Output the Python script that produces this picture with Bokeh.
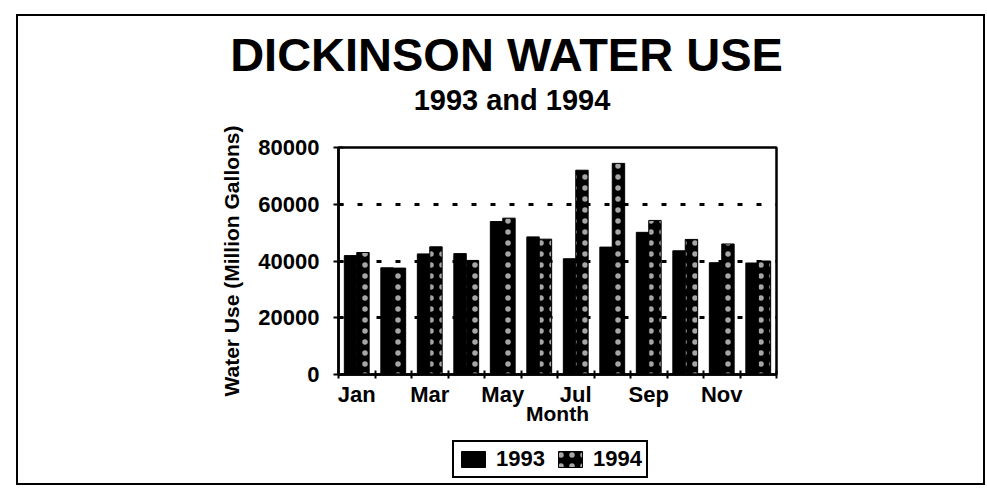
from bokeh.plotting import figure
from bokeh.layouts import column
from bokeh.models import (ColumnDataSource, FixedTicker, Legend, LegendItem,
                          Range1d, Div)
from bokeh.embed import file_html
from bokeh.resources import INLINE

months = ["Jan", "Feb", "Mar", "Apr", "May", "Jun", "Jul", "Aug", "Sep", "Oct", "Nov", "Dec"]
use_1993 = [41900, 37600, 42500, 42600, 53900, 48500, 40800, 44900, 50100, 43600, 39400, 39300]
use_1994 = [43000, 37500, 45000, 40200, 55100, 47700, 72000, 74400, 54300, 47600, 46000, 40000]
y_ticks = [0, 20000, 40000, 60000, 80000]
x_label_months = ["Jan", "Mar", "May", "Jul", "Sep", "Nov"]
series_names = ["1993", "1994"]
title_text = "DICKINSON WATER USE"
subtitle_text = "1993 and 1994"

FONT = "Liberation Sans"

idx = list(range(len(months)))
src = ColumnDataSource(dict(
    x93=[i + 0.5 - 0.17 for i in idx],
    x94=[i + 0.5 + 0.17 for i in idx],
    y93=use_1993,
    y94=use_1994,
))

style93 = dict(fill_color="black", line_color="black", line_width=1)
style94 = dict(fill_color="black", line_color="black", line_width=1,
               hatch_pattern=".", hatch_color="white", hatch_scale=11, hatch_weight=1,
               hatch_alpha=0.65)

# title block
title_html = (
    '<div style="position:relative;width:965px;height:100px;">'
    f'<div style="position:absolute;left:0;top:15px;width:977px;text-align:center;'
    f'font-family:\'{FONT}\';font-weight:bold;font-size:47px;line-height:47px;'
    f'color:black;white-space:nowrap;">{title_text}</div>'
    f'<div style="position:absolute;left:0;top:70px;width:988px;text-align:center;'
    f'font-family:\'{FONT}\';font-weight:bold;font-size:29px;line-height:29px;'
    f'color:black;white-space:nowrap;">{subtitle_text}</div>'
    '</div>'
)
head = Div(text=title_html, width=965, height=100, margin=0)

p = figure(frame_width=438, frame_height=227, output_backend="svg", toolbar_location=None,
           x_range=Range1d(0, len(months)), y_range=Range1d(0, 80000),
           min_border_left=320, min_border_right=207, min_border_top=31,
           min_border_bottom=60)

p.outline_line_color = "black"
p.outline_line_width = 2.5
p.outline_line_alpha = 1

p.vbar(x="x93", top="y93", width=0.34, bottom=0, source=src, **style93)
p.vbar(x="x94", top="y94", width=0.34, bottom=0, source=src, **style94)

# x axis: labels at group centers, ticks at boundaries
label_pos = [months.index(m) + 0.5 for m in x_label_months]
p.xaxis.ticker = FixedTicker(ticks=label_pos, minor_ticks=[float(i) for i in range(len(months) + 1)])
p.xaxis.major_label_overrides = {pos: m for pos, m in zip(label_pos, x_label_months)}
p.xaxis.major_tick_in = 0
p.xaxis.major_tick_out = 0
p.xaxis.minor_tick_in = 4
p.xaxis.minor_tick_out = 4
p.xaxis.minor_tick_line_width = 2
p.xaxis.minor_tick_line_color = "black"
p.xaxis.axis_line_width = 2.5
p.xaxis.axis_line_color = "black"
p.xaxis.major_label_text_font = FONT
p.xaxis.major_label_text_font_style = "bold"
p.xaxis.major_label_text_font_size = "22px"
p.xaxis.major_label_text_color = "black"
p.xaxis.major_label_standoff = 3
p.xaxis.axis_label = "Month"
p.xaxis.axis_label_text_font = FONT
p.xaxis.axis_label_text_font_style = "bold"
p.xaxis.axis_label_text_font_size = "21px"
p.xaxis.axis_label_text_color = "black"
p.xaxis.axis_label_standoff = -8

p.yaxis.ticker = FixedTicker(ticks=y_ticks, minor_ticks=[])
p.yaxis.major_tick_in = 5
p.yaxis.major_tick_out = 5
p.yaxis.major_tick_line_width = 2
p.yaxis.axis_line_width = 2.5
p.yaxis.axis_line_color = "black"
p.yaxis.major_label_text_font = FONT
p.yaxis.major_label_text_font_style = "bold"
p.yaxis.major_label_text_font_size = "22px"
p.yaxis.major_label_text_color = "black"
p.yaxis.major_label_standoff = 14
p.yaxis.axis_label = "Water Use (Million Gallons)"
p.yaxis.axis_label_text_font = FONT
p.yaxis.axis_label_text_font_style = "bold"
p.yaxis.axis_label_text_font_size = "21px"
p.yaxis.axis_label_text_color = "black"
p.yaxis.axis_label_standoff = 12

p.xgrid.grid_line_color = None
p.ygrid.ticker = FixedTicker(ticks=[20000, 40000, 60000])
p.ygrid.grid_line_color = "black"
p.ygrid.grid_line_width = 3
p.ygrid.grid_line_dash = "5 14"

# legend strip below the chart; swatches come from zero-size proxy bars hidden under the legend
p2 = figure(width=965, height=49, output_backend="svg", toolbar_location=None,
            x_range=Range1d(0, 1), y_range=Range1d(0, 1),
            x_axis_location=None, y_axis_location=None, min_border=0)
p2.outline_line_color = None
p2.grid.grid_line_color = None
d93 = p2.vbar(x=[0.5], top=[0.5], bottom=[0.5], width=0, **style93)
d94 = p2.vbar(x=[0.5], top=[0.5], bottom=[0.5], width=0, **style94)

legend = Legend(items=[LegendItem(label=series_names[0], renderers=[d93]),
                       LegendItem(label=series_names[1], renderers=[d94])],
                orientation="horizontal", location=(114, 5),
                label_text_font=FONT, label_text_font_style="bold", label_text_font_size="22px",
                label_text_color="black",
                label_standoff=8, glyph_width=30, glyph_height=20, spacing=10,
                padding=4, margin=0, border_line_color="black", border_line_width=2.5,
                border_line_alpha=1, background_fill_color="white", background_fill_alpha=1)
p2.add_layout(legend, "center")

layout = column(head, p, p2, spacing=0,
                styles={"border": "2.5px solid black", "margin-left": "16px", "margin-top": "14px"})

open("out.html", "w").write(file_html(layout, INLINE))
